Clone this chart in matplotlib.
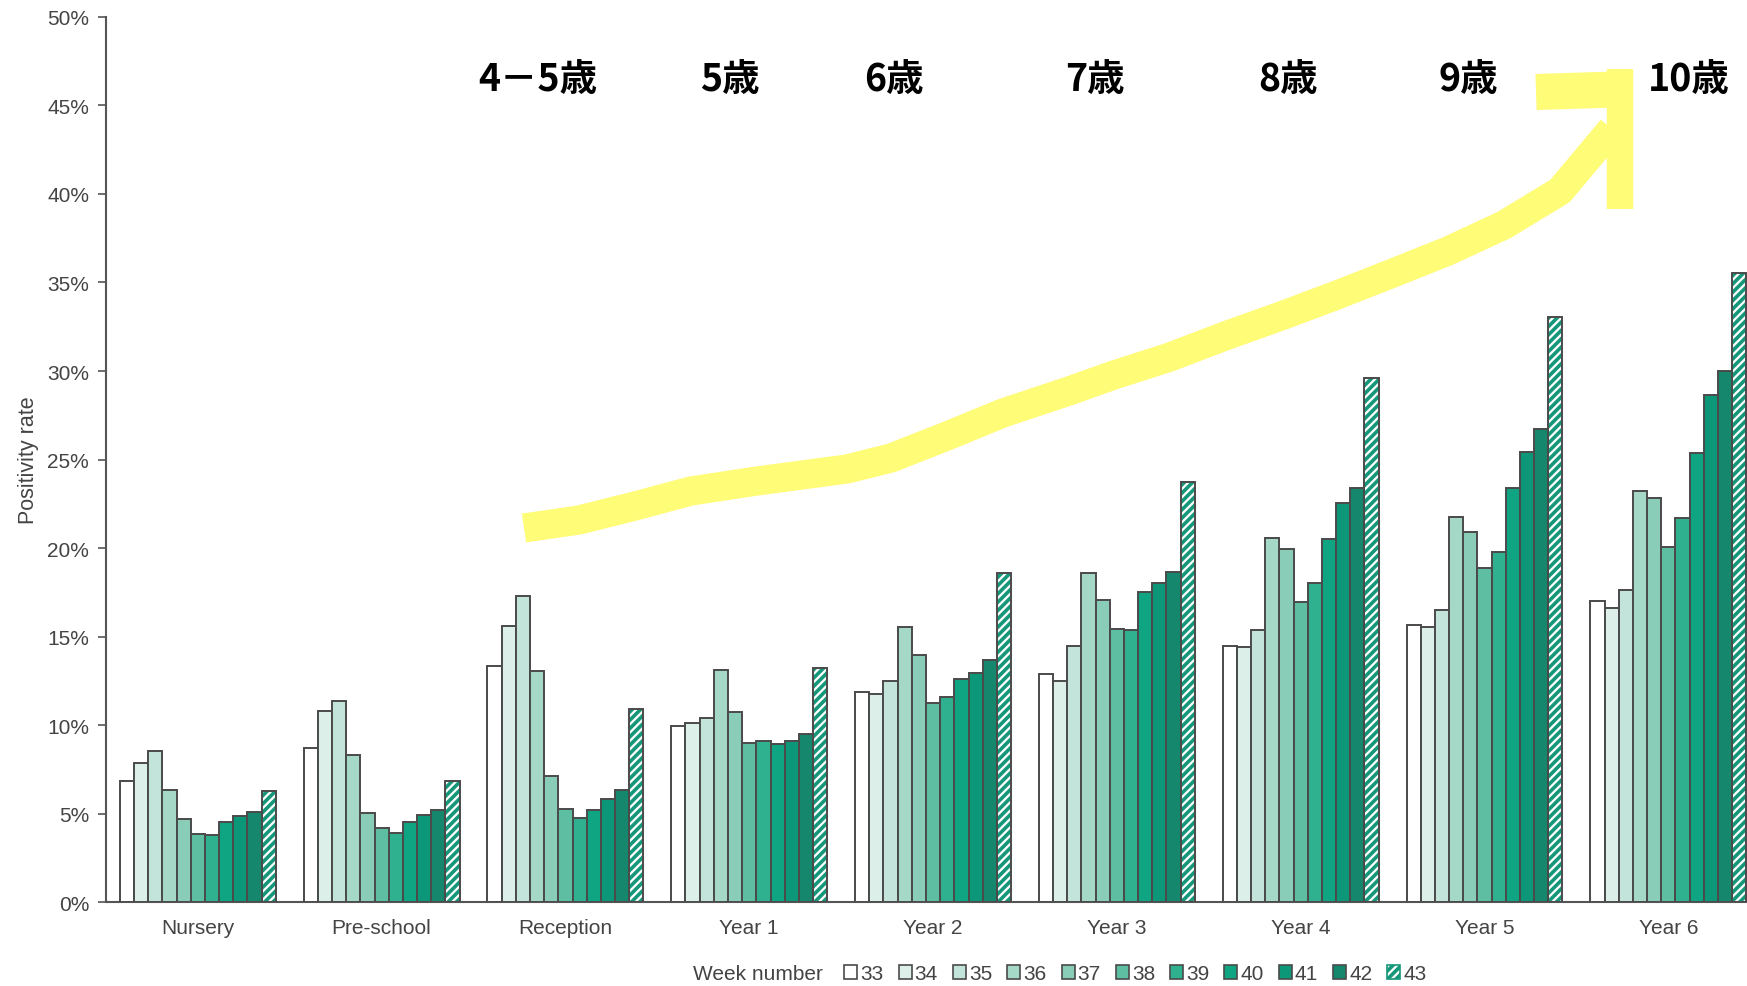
import matplotlib
matplotlib.use("Agg")
import matplotlib.pyplot as plt
from matplotlib.patches import Patch
from matplotlib.lines import Line2D
import numpy as np

# ---------------- data ----------------
groups = ["Nursery", "Pre-school", "Reception", "Year 1", "Year 2",
          "Year 3", "Year 4", "Year 5", "Year 6"]
weeks = ["33", "34", "35", "36", "37", "38", "39", "40", "41", "42", "43"]

nursery   = [6.86, 7.88, 8.57, 6.37, 4.72, 3.85, 3.80, 4.53, 4.90, 5.09, 6.28]
preschool = [8.70, 10.83, 11.38, 8.31, 5.06, 4.20, 3.90, 4.53, 4.96, 5.19, 6.85]
reception = [13.37, 15.61, 17.32, 13.07, 7.16, 5.26, 4.79, 5.20, 5.85, 6.35, 10.90]
year1     = [9.95, 10.12, 10.40, 13.14, 10.77, 9.00, 9.14, 8.95, 9.10, 9.51, 13.24]
year2     = [11.87, 11.76, 12.52, 15.54, 13.99, 11.25, 11.62, 12.62, 12.96, 13.71, 18.60]
year3     = [12.90, 12.52, 14.46, 18.60, 17.08, 15.44, 15.38, 17.55, 18.04, 18.64, 23.75]
year4     = [14.49, 14.40, 15.38, 20.56, 19.94, 16.96, 18.06, 20.54, 22.55, 23.37, 29.58]
year5     = [15.65, 15.53, 16.53, 21.75, 20.93, 18.87, 19.76, 23.39, 25.40, 26.71, 33.07]
year6     = [17.02, 16.63, 17.63, 23.25, 22.81, 20.05, 21.71, 25.38, 28.66, 30.02, 35.55]

age_labels = ["4－5歳", "5歳", "6歳", "7歳", "8歳", "9歳", "10歳"]

values = np.array([nursery, preschool, reception, year1, year2,
                   year3, year4, year5, year6])  # groups x weeks

# ---------------- style ----------------
colors = ["#ffffff", "#dcefe8", "#c3e4da", "#a6d8c8", "#89ccb7", "#5dbea1",
          "#2fb08e", "#0fa583", "#0c9878", "#14876d", "#ffffff"]
hatch_color = "#15977a"
edge = "#4a4a4a"
text_gray = "#444444"
yellow = "#fffc78"

W, H = 1747, 987
plt.rcParams["font.family"] = ["Liberation Sans", "DejaVu Sans"]
plt.rcParams["hatch.linewidth"] = 2.6

fig = plt.figure(figsize=(W / 100, H / 100), dpi=100)
ax = fig.add_axes([0.0606, 0.0847, 0.947, 0.8973])

n = len(weeks)
group_w = 0.848
bw = group_w / n
x = np.arange(len(groups))
for i, wk in enumerate(weeks):
    pos = x - group_w / 2 + bw * (i + 0.5)
    if i == n - 1:
        ax.bar(pos, values[:, i], width=bw, color="white", edgecolor=hatch_color,
               hatch="////", linewidth=0, zorder=2)
        ax.bar(pos, values[:, i], width=bw, fill=False, edgecolor=edge,
               linewidth=1.4, zorder=3)
    else:
        ax.bar(pos, values[:, i], width=bw, color=colors[i], edgecolor=edge,
               linewidth=1.4, zorder=3)

ax.set_xlim(-0.5, 8.5)
ax.set_ylim(0, 50)
ax.set_yticks(np.arange(0, 51, 5))
ax.set_yticklabels([f"{v}%" for v in range(0, 51, 5)])
ax.set_xticks(x)
ax.set_xticklabels(groups)
ax.tick_params(axis="x", length=0, pad=11, labelsize=15, labelcolor=text_gray)
ax.tick_params(axis="y", length=6, width=1.2, color="#555555", pad=6,
               labelsize=15, labelcolor=text_gray)
for s in ["top", "right"]:
    ax.spines[s].set_visible(False)
for s in ["left", "bottom"]:
    ax.spines[s].set_color("#555555")
    ax.spines[s].set_linewidth(1.5)
ax.set_ylabel("Positivity rate", fontsize=15.5, color=text_gray, labelpad=6)

# ---------------- legend ----------------
handles = []
for i, wk in enumerate(weeks):
    if i == n - 1:
        handles.append(Patch(facecolor="white", edgecolor=hatch_color, hatch="////",
                             label=wk, linewidth=1.2))
    else:
        handles.append(Patch(facecolor=colors[i], edgecolor=edge, label=wk,
                             linewidth=1.2))
fig.text(693 / W, 1 - 975 / H, "Week number", fontsize=15, color=text_gray,
         ha="left", va="center")
fig.legend(handles=handles, loc="center left",
           bbox_to_anchor=(834 / W, 1 - 975 / H), ncol=n, frameon=False,
           fontsize=15, handlelength=0.62, handleheight=0.62,
           handletextpad=0.15, columnspacing=0.72, borderpad=0,
           labelcolor=text_gray)

# ---------------- annotation (age labels and yellow arrow) ----------------
age_px = [538, 730, 894, 1095, 1288, 1468, 1689]
for lbl, px in zip(age_labels, age_px):
    fig.text(px / W, 1 - 79 / H, lbl, fontsize=27, fontweight="bold",
             family=["Noto Sans CJK JP", "DejaVu Sans"], color="black",
             ha="center", va="center")

path_px = [(524, 529), (579, 521), (635, 507), (691, 492), (757, 482), (847, 470),
           (891, 459), (947, 437), (1003, 414), (1069, 392), (1114, 376),
           (1170, 358), (1225, 337), (1281, 317), (1337, 296), (1393, 274),
           (1448, 252), (1504, 226), (1560, 192), (1612, 130)]
px_x = [p[0] / W for p in path_px]
px_y = [1 - p[1] / H for p in path_px]
fig.add_artist(Line2D(px_x, px_y, transform=fig.transFigure, color=yellow,
                      linewidth=21, solid_capstyle="butt", solid_joinstyle="round",
                      zorder=1))
fig.add_artist(Line2D([1536 / W, 1632 / W], [1 - 93 / H, 1 - 90 / H],
                      transform=fig.transFigure, color=yellow, linewidth=26,
                      solid_capstyle="butt", zorder=1))
fig.add_artist(Line2D([1620 / W, 1620 / W], [1 - 70 / H, 1 - 210 / H],
                      transform=fig.transFigure, color=yellow, linewidth=19,
                      solid_capstyle="butt", zorder=1))

fig.savefig("out.png", dpi=100, facecolor="white")
